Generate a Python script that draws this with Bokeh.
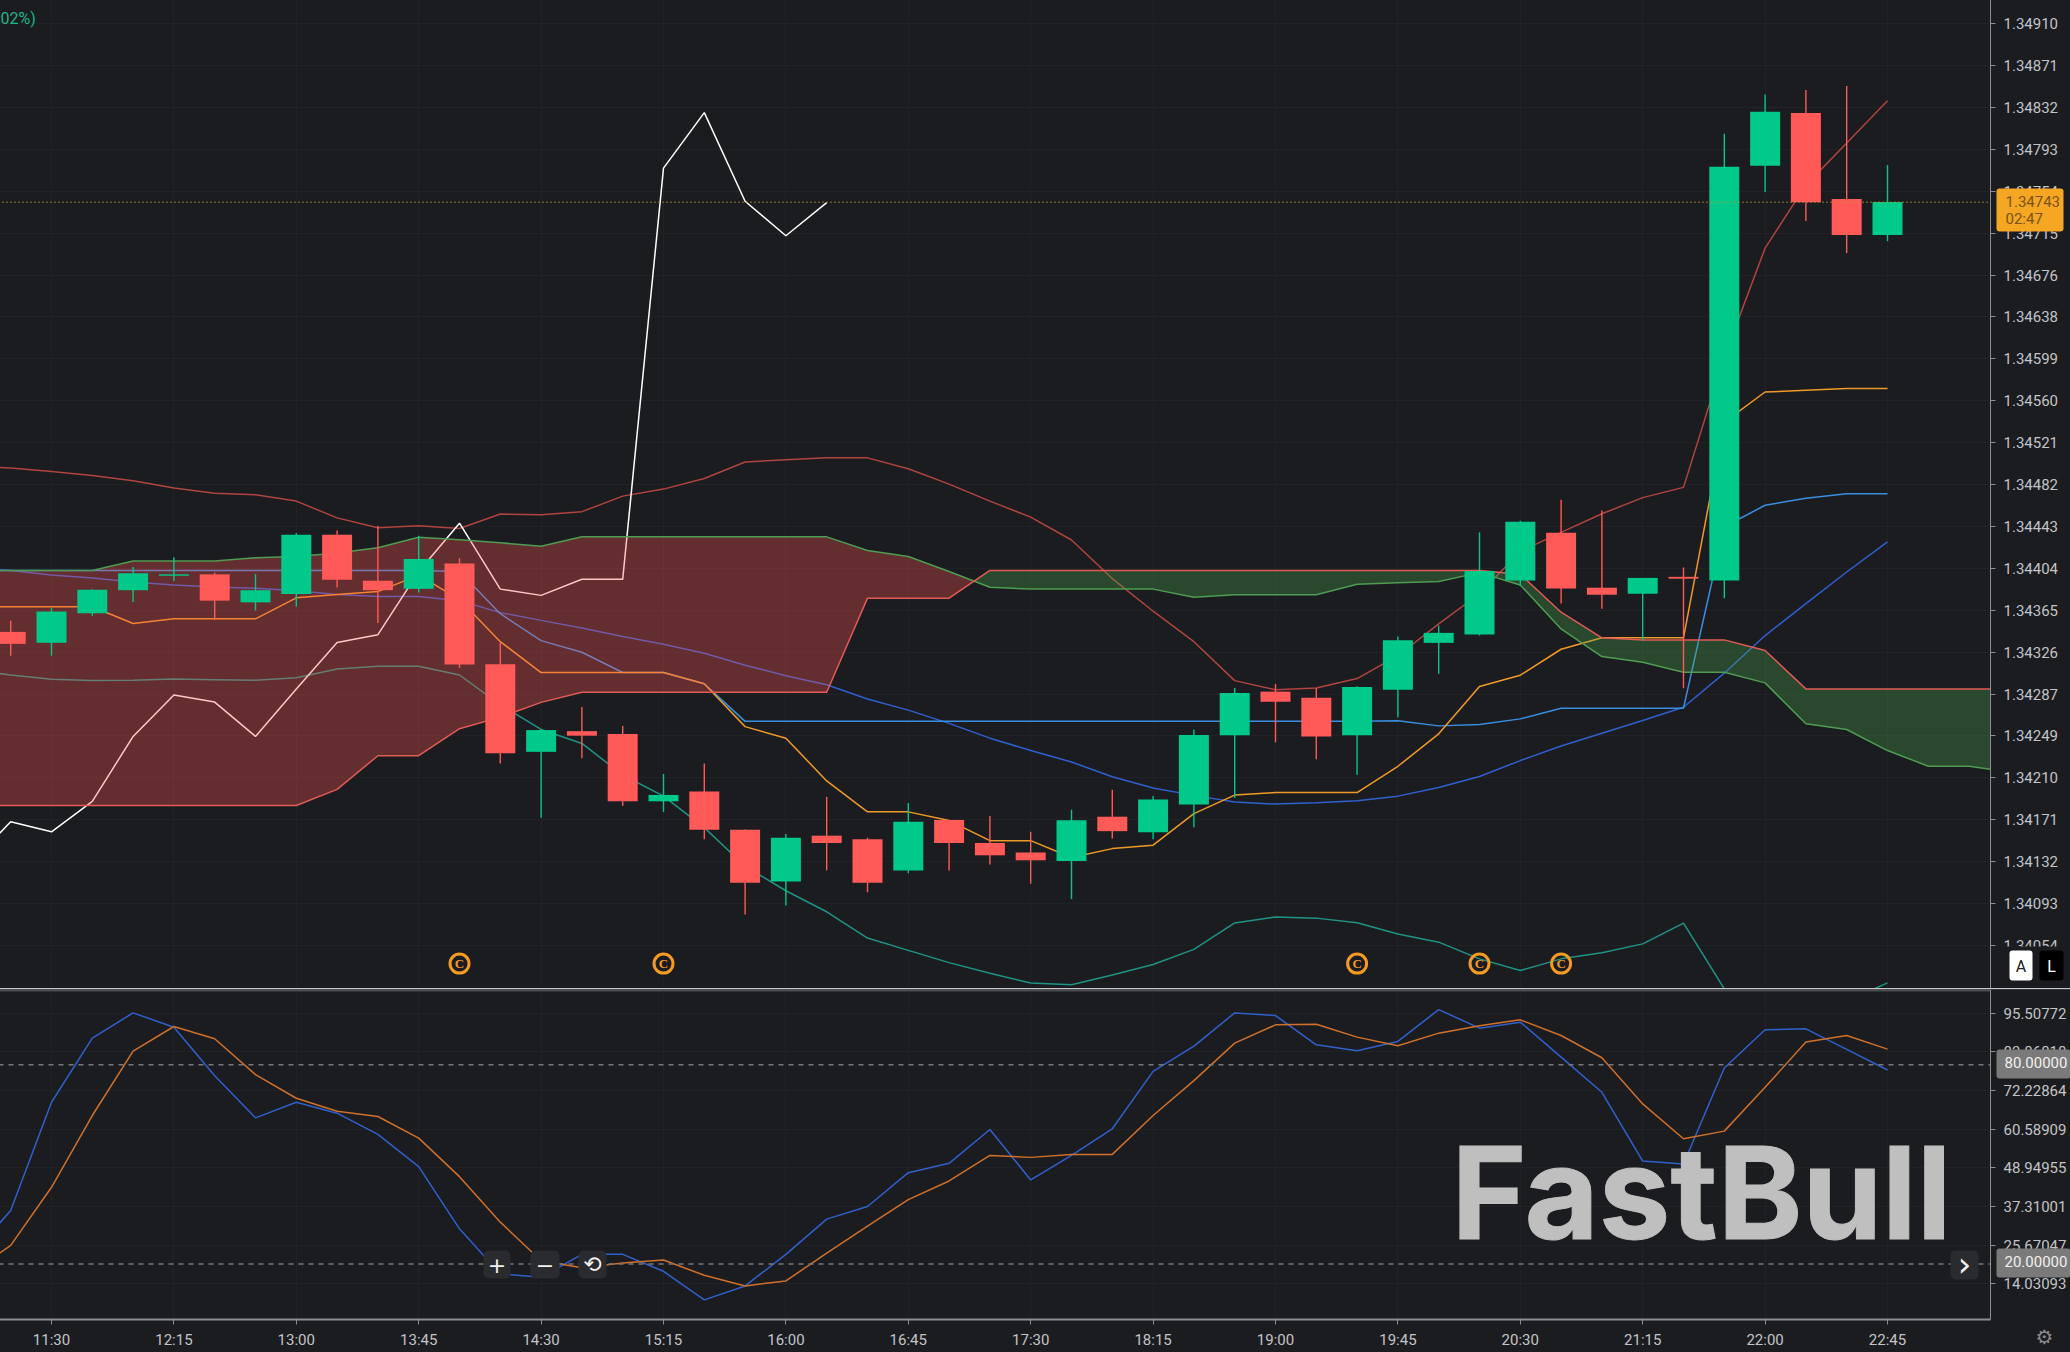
from bokeh.embed import file_html
from bokeh.resources import INLINE
from bokeh.layouts import column
from bokeh.plotting import figure
from bokeh.models import (Range1d, FixedTicker, NumeralTickFormatter, Grid, Span, Label, BoxAnnotation, LinearAxis)

# ---------- values (prices are points of 1e-5 above BASE) ----------
BASE = 1.34
PIP = 1e-5
time_labels = ["11:30","12:15","13:00","13:45","14:30","15:15","16:00","16:45","17:30","18:15","19:00","19:45","20:30","21:15","22:00","22:45"]
time_index = [1,4,7,10,13,16,19,22,25,28,31,34,37,40,43,46]
price_ticks = [910,871,832,793,754,715,676,638,599,560,521,482,443,404,365,326,287,249,210,171,132,93,54]
osc_ticks = [95.50772,83.86818,72.22864,60.58909,48.94955,37.31001,25.67047,14.03093]

opens  = [345.4,335.3,362.7,384.1,397.5,398.8,372.8,380.6,435.6,392.9,385.4,408.9,315.5,234.1,253.3,250.7,188.2,197.3,161.8,113.7,156.3,153.0,124.1,170.9,149.5,140.7,132.9,173.9,159.6,185.3,249.4,290.0,284.2,249.4,291.7,335.2,343.0,393.2,437.5,386.4,380.8,396.5,393.2,778.0,826.8,747.0,713.8]
closes = [334.3,364.3,384.5,399.8,398.8,374.4,384.1,435.6,393.9,384.1,413.1,315.1,232.8,254.3,249.1,188.2,194.1,161.8,112.7,154.4,149.5,112.7,169.3,149.5,138.1,133.5,170.6,160.5,189.8,249.7,288.8,280.6,248.4,294.3,337.6,344.5,402.0,447.6,385.7,379.9,395.5,394.8,777.0,828.0,744.1,713.8,744.4]
highs  = [355.8,367.5,385.0,405.6,414.7,400.4,399.1,437.2,439.5,443.7,434.6,413.8,335.6,254.9,275.8,258.2,213.6,223.4,162.1,157.9,192.4,154.4,186.6,171.0,174.5,159.9,180.4,199.0,193.1,254.6,293.3,297.2,293.0,295.0,341.2,351.3,437.8,448.6,468.0,458.0,395.5,405.2,807.6,844.0,848.3,852.0,778.6]
lows   = [323.3,323.3,360.1,373.1,392.6,356.5,365.3,368.9,386.7,353.6,381.9,311.9,223.3,172.9,228.2,184.0,178.4,153.0,83.1,91.5,124.1,103.9,121.5,124.1,129.6,111.7,97.4,153.7,153.0,164.1,191.4,242.9,227.2,212.9,266.3,306.5,342.0,388.0,371.7,366.8,337.4,293.2,376.6,753.5,726.8,696.9,708.0]

bb_upper = [499.4,497.4,494.2,490.6,485.7,478.9,474.0,472.7,466.8,451.2,442.1,444.0,441.4,454.8,454.1,457.0,471.4,477.9,487.7,503.0,505.2,506.9,506.9,496.8,482.5,466.8,451.9,430.7,394.9,364.6,336.3,300.2,291.7,293.3,302.1,323.3,352.8,380.8,420.0,437.8,455.0,470.0,479.5,600.6,701.5,760.0,799.0,838.2]
bb_mid = [404.7,402.4,398.1,395.5,391.6,389.0,387.1,385.8,383.5,380.2,378.3,378.3,374.4,363.3,356.1,349.0,341.2,334.0,325.6,314.5,304.7,296.3,283.2,272.8,260.5,246.8,235.4,224.7,211.0,200.6,193.7,187.5,185.6,186.9,188.8,193.0,201.0,211.2,226.0,239.6,251.4,263.2,275.5,307.1,342.0,371.7,401.0,429.0]
bb_lower = [310.3,305.4,301.5,300.2,300.5,301.8,301.1,300.5,302.8,310.9,313.5,313.5,305.4,277.7,254.9,241.9,212.6,193.0,163.8,128.0,105.2,85.7,61.3,49.9,38.5,28.7,19.6,18.0,27.1,36.8,50.8,75.3,80.8,79.8,75.6,65.1,57.5,42.0,31.2,42.0,47.6,55.9,75.1,14.2,-50.0,-30.0,2.7,19.7]
tenkan = [368.8,368.8,368.8,368.8,353.2,357.5,357.5,357.5,377.0,380.2,382.8,398.1,375.4,336.3,307.7,307.7,307.7,307.7,297.2,257.5,246.8,207.1,178.4,178.4,170.3,151.7,151.7,136.1,144.3,147.5,176.8,194.0,196.3,196.3,196.3,220.7,250.8,294.7,305.2,329.3,339.9,339.9,339.9,540.0,568.0,569.6,571.2,571.2]
kijun = [402.4,402.4,402.4,402.4,402.4,402.4,402.4,402.4,402.4,402.4,402.4,402.4,401.4,362.3,337.3,326.5,307.7,307.7,297.2,262.4,262.4,262.4,262.4,262.4,262.4,262.4,262.4,262.4,262.4,262.4,262.4,262.4,262.4,262.4,262.4,263.0,258.2,259.4,264.7,274.6,274.6,274.6,274.6,443.0,462.9,469.4,473.6,473.6]
chikou = [129.6,169.3,159.9,188.2,248.4,286.8,280.3,248.4,292.4,335.6,342.8,401.4,446.3,385.1,379.3,394.2,394.2,775.8,827.3,745.0,713.0,743.8]
span_green = [402.4,402.4,402.4,402.4,411.2,411.2,411.2,414.1,415.4,418.7,423.5,433.3,431.0,428.1,424.8,433.6,433.6,433.6,433.6,433.6,433.6,433.6,420.9,415.4,401.4,386.8,385.1,385.1,385.1,385.1,377.6,379.9,379.9,379.9,389.7,391.0,392.2,400.4,389.0,348.2,322.5,317.3,308.0,308.0,298.1,260.1,254.8,235.3,220.8,220.8,215.5]
span_red = [184.3,184.3,184.3,184.3,184.3,184.3,184.3,184.3,184.3,199.3,230.5,230.5,255.6,266.3,280.0,289.4,289.4,289.4,289.4,289.4,289.4,289.4,376.7,376.7,376.7,402.4,402.4,402.4,402.4,402.4,402.4,402.4,402.4,402.4,402.4,402.4,402.4,402.4,398.8,363.7,339.9,338.0,338.0,338.0,328.1,292.5,292.5,292.5,292.5,292.5,292.5]
signal_bars = [11,16,33,36,38]
signal_level = 37.6
last_price = 744.1

stoch_k = [22.06,36.1,68.7,88.0,95.6,91.3,76.7,64.0,68.7,65.4,59.0,49.3,30.6,17.0,16.0,22.9,22.9,17.8,9.2,13.4,22.9,33.5,37.3,47.5,50.3,60.5,45.3,52.7,60.7,78.0,85.6,95.6,94.8,86.0,84.2,87.0,96.6,91.0,92.8,82.3,71.7,51.0,50.1,79.0,90.5,90.8,84.6,78.4]
stoch_d = [17.0,25.6,43.1,64.7,84.1,91.5,87.8,77.0,69.9,66.0,64.4,57.9,46.3,32.6,21.0,18.9,20.3,21.2,16.6,13.4,14.9,23.3,31.4,39.4,45.0,52.7,52.1,53.0,53.0,64.7,75.2,86.5,92.0,92.2,88.3,85.7,89.5,91.7,93.5,88.8,82.1,68.2,57.7,60.0,73.2,86.8,88.8,84.7]

# ---------- styles ----------
BG = "#1b1c20"
GRID = "#212226"
UP = "#01c98a"
DOWN = "#ff5a58"
AXIS = "#8d8e91"
TXT = "#c2c4c7"
FONT = "Roboto"
X0 = 2                 # canvas overscan at the left and top edges
AXIS_X = 48.525        # bar position of the price axis
OSC_LOW, OSC_HIGH = 3.29, 102.64

def px(values):
    return [BASE + v * PIP for v in values]

def idx(values, start=-1):
    return list(range(start, start + len(values)))

xr = Range1d(-0.29902, 50.4853)
main = figure(width=2072, height=990, x_range=xr, y_range=Range1d(1.340145, 1.3493316),
              x_axis_location=None, y_axis_location=None, output_backend="svg", toolbar_location=None,
              min_border_left=0, min_border_right=0, min_border_top=0, min_border_bottom=0,
              background_fill_color=BG, border_fill_color=BG)
lower = figure(width=2072, height=364, x_range=xr, y_range=Range1d(-6.644, OSC_HIGH),
               x_axis_location=None, y_axis_location=None, output_backend="svg", toolbar_location=None,
               min_border_left=0, min_border_right=0, min_border_top=1, min_border_bottom=0,
               background_fill_color=BG, border_fill_color=BG)
for fig in (main, lower):
    fig.outline_line_color = None

main_axis = LinearAxis(fixed_location=AXIS_X, ticker=FixedTicker(ticks=px(price_ticks)),
                       formatter=NumeralTickFormatter(format="0.00000"))
lower_axis = LinearAxis(fixed_location=AXIS_X, ticker=FixedTicker(ticks=osc_ticks),
                        formatter=NumeralTickFormatter(format="0.00000"), bounds=(OSC_LOW, OSC_HIGH))
time_axis = LinearAxis(fixed_location=OSC_LOW, ticker=FixedTicker(ticks=time_index),
                       major_label_overrides=dict(zip(time_index, time_labels)),
                       axis_line_width=2, bounds=(-0.29902, AXIS_X))
main.add_layout(main_axis, "right")
lower.add_layout(lower_axis, "right")
lower.add_layout(time_axis, "below")

for fig in (main, lower):
    fig.grid.visible = False
    fig.add_layout(Grid(dimension=0, ticker=FixedTicker(ticks=time_index), grid_line_color=GRID, level="underlay"))

main.add_layout(Grid(dimension=1, ticker=FixedTicker(ticks=px(price_ticks)), grid_line_color=GRID, level="underlay"))
lower.add_layout(Grid(dimension=1, ticker=FixedTicker(ticks=osc_ticks), grid_line_color=GRID, level="underlay"))

for ax in (main_axis, lower_axis, time_axis):
    ax.axis_line_color = AXIS
    ax.major_tick_line_color = AXIS
    ax.major_tick_in = 0
    ax.major_tick_out = 5
    ax.minor_tick_line_color = None
    ax.major_label_text_color = TXT
    ax.major_label_text_font = FONT
    ax.major_label_text_font_size = "15px"
    ax.major_label_standoff = 8
time_axis.major_label_standoff = 6

# indicator lines beneath the cloud
LW = 1.5
main.line(idx(bb_upper), px(bb_upper), line_color="#b0443f", line_width=LW)
main.line(idx(bb_lower), px(bb_lower), line_color="#1f9384", line_width=LW)
main.line(idx(bb_mid), px(bb_mid), line_color="#2f5fd0", line_width=LW)
main.line(idx(kijun), px(kijun), line_color="#3a8ee0", line_width=LW)
main.line(idx(tenkan), px(tenkan), line_color="#f09a28", line_width=LW)
main.line(idx(chikou), px(chikou), line_color="#ffffff", line_width=LW)

# cloud: split where the two spans cross so that the fill colour changes there
cx, cg, cr = [], [], []
for i, (g, r) in enumerate(zip(span_green, span_red)):
    if i:
        g0, r0 = span_green[i - 1], span_red[i - 1]
        if (g0 - r0) * (g - r) < 0:
            t = (g0 - r0) / ((g0 - r0) - (g - r))
            cx.append(i - 2 + t)
            cg.append(g0 + (g - g0) * t)
            cr.append(r0 + (r - r0) * t)
    cx.append(i - 1)
    cg.append(g)
    cr.append(r)
cross = next(k for k, x in enumerate(cx) if x != int(x))
main.varea(cx[:cross + 1], px(cg[:cross + 1]), px(cr[:cross + 1]), fill_color="#ff5252", fill_alpha=0.32)
main.varea(cx[cross:], px(cg[cross:]), px(cr[cross:]), fill_color="#4caf50", fill_alpha=0.30)
main.line(idx(span_green), px(span_green), line_color="#4f9c52", line_width=LW)
main.line(idx(span_red), px(span_red), line_color="#e25b55", line_width=LW)

# candles
bars = list(range(len(opens)))
colors = [UP if c >= o else DOWN for o, c in zip(opens, closes)]
main.segment(bars, px(highs), bars, px(lows), line_color=colors, line_width=1.4)
main.vbar(bars, 0.735, px(opens), px(closes), fill_color=colors, line_color=None)

main.add_layout(Span(location=BASE + last_price * PIP, dimension="width", line_color="#c08f34",
                     line_dash=[1, 3], line_width=1.6, level="glyph"))

# signal markers
sy = [BASE + signal_level * PIP] * len(signal_bars)
main.scatter(signal_bars, sy, marker="circle", size=19, fill_color=None, line_color="#f59a23", line_width=3)
main.text(signal_bars, sy, text=["C"] * len(signal_bars), text_color="#f59a23", text_align="center",
          text_baseline="middle", text_font=FONT, text_font_style="bold", text_font_size="13px")

# oscillator
lower.line(idx(stoch_k), stoch_k, line_color="#3060cc", line_width=LW)
lower.line(idx(stoch_d), stoch_d, line_color="#d0702a", line_width=LW)
for lvl in (80, 20):
    lower.add_layout(Span(location=lvl, dimension="width", line_color="#77787b", line_dash=[5, 5], line_width=1.4, level="glyph"))
lower.add_layout(Span(location=102.35, dimension="width", line_color="#4a4b4f", line_width=2, level="glyph"))

def box(fig, bottom, l, t, r, b, color, radius=3, level="annotation"):
    fig.add_layout(BoxAnnotation(left=l + X0, right=r + X0, top=bottom - t, bottom=bottom - b,
                                 left_units="screen", right_units="screen", top_units="screen", bottom_units="screen",
                                 fill_color=color, fill_alpha=1, line_color=None, border_radius=radius, level=level))

def tag(fig, bottom, x, y, text, color=TXT, size=14, align="left", font=FONT, style="normal", **kw):
    fig.add_layout(Label(x=x + X0, y=bottom - y, x_units="screen", y_units="screen", text=text, text_color=color,
                         text_font_size=f"{size}px", text_align=align, text_baseline="middle",
                         text_font=font, text_font_style=style, **kw))

# the strips right of and below the plotting area: lines and grids stop at the axes
box(main, 988, 1990, -2, 2070, 988, BG, 0, level="glyph")
box(lower, 1352, 1990, 988, 2070, 1352, BG, 0, level="glyph")
box(lower, 1352, -2, 1319, 1990, 1352, BG, 0, level="glyph")

# main pane overlays (y counted from the page top)
tag(main, 988, 0, 18, "02%)", color="#1db488", size=16)
box(main, 988, 1996, 188, 2063, 231, "#f5a623")
tag(main, 988, 2005, 201, "1.34743", color="#7a5414", size=15)
tag(main, 988, 2005, 218, "02:47", color="#7a5414", size=15)
box(main, 988, 1993, 946, 2070, 988, BG, 0)
box(main, 988, 2009, 950, 2032, 980, "#ffffff")
tag(main, 988, 2020.5, 966, "A", color="#222222", size=16, align="center")
box(main, 988, 2039, 950, 2063, 980, "#000000")
tag(main, 988, 2051, 966, "L", color="#ffffff", size=16, align="center")

# lower pane overlays
def ltag(*a, **k):
    tag(lower, 1352, *a, **k)
def lbox(*a, **k):
    box(lower, 1352, *a, **k)

ltag(1451, 1192, "FastBull", color="#bfbfbf", size=128, font="Inter", style="bold", text_outline_color="#bfbfbf")
for l, r, s in ((483, 510, "+"), (530, 559, "\u2212"), (578, 606, "\u27f2")):
    lbox(l, 1250, r, 1278, "#2a2b2f", 5)
    ltag((l + r) / 2, 1264, s, color="#f2f2f2", size=22, align="center", font="DejaVu Sans")
lbox(1950, 1250, 1978, 1279, "#2a2b2f", 5)
ltag(1964, 1263, "\u203a", color="#f2f2f2", size=34, align="center", font="DejaVu Sans")
lbox(1996, 1049, 2070, 1078, "#7a7a7a", 3)
ltag(2004, 1062, "80.00000", color="#f0f0f0", size=15)
lbox(1996, 1248, 2070, 1277, "#7a7a7a", 3)
ltag(2004, 1261, "20.00000", color="#f0f0f0", size=15)
ltag(2044, 1336, "\u2699", color="#8a8b8e", size=20, align="center", font="DejaVu Sans")

page = column(main, lower, spacing=0, margin=(-X0, 0, 0, -X0))
open("out.html", "w").write(file_html(page, INLINE))
